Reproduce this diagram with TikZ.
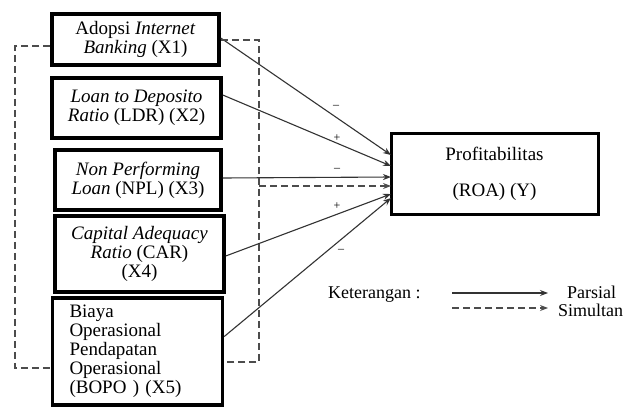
\documentclass[tikz,border=0pt]{standalone}
\usepackage{fontspec}
\setmainfont{Liberation Serif}
\usetikzlibrary{arrows.meta}
\begin{document}
\begin{tikzpicture}[x=1pt,y=-1pt,
  varbox/.style={draw=black,line width=3.5pt,rectangle,inner sep=0pt,align=center,font=\fontsize{19}{19}\selectfont},
  ybox/.style={draw=black,line width=3pt,rectangle,inner sep=0pt,align=center,font=\fontsize{19}{19}\selectfont},
  solidarrow/.style={draw=black!80,line width=1.1pt,-{Stealth[length=8pt,width=6pt]}},
  dasharrow/.style={draw=black!70,line width=1.1pt,dash pattern=on 7pt off 4pt,-{Stealth[length=8pt,width=6pt]}},
  dashline/.style={draw=black!70,line width=1.1pt,dash pattern=on 7pt off 4pt},
  signlbl/.style={font=\fontsize{12}{12}\selectfont,inner sep=0pt},
  txt/.style={font=\fontsize{18}{18}\selectfont,inner sep=0pt}]
\useasboundingbox (0,0) rectangle (635,407);
\fill[white] (0,0) rectangle (635,407);

\node[varbox,minimum width=167pt,minimum height=51pt] (X1) at (135.5,39.5) {Adopsi \textit{Internet}\\\textit{Banking} (X1)};
\node[varbox,minimum width=169pt,minimum height=60pt] (X2) at (136.5,108) {\textit{Loan to Deposito}\\\textit{Ratio} (LDR) (X2)};
\node[varbox,minimum width=166pt,minimum height=60pt] (X3) at (138,180) {\textit{Non Performing}\\\textit{Loan} (NPL) (X3)};
\node[varbox,minimum width=169pt,minimum height=76pt] (X4) at (139.5,254) {\textit{Capital Adequacy}\\\textit{Ratio} (CAR)\\(X4)};
\node[varbox,minimum width=170pt,minimum height=107pt,text width=136pt,align=left] (X5) at (137.5,351.5) {Biaya\\Operasional\\Pendapatan\\Operasional\\(BOPO ) (X5)};

\node[ybox,minimum width=207pt,minimum height=81pt] (Y) at (494.5,173.5) {Profitabilitas\\[17pt](ROA) (Y)};

\coordinate (e1) at (391,155);
\coordinate (e2) at (391,166);
\coordinate (e3) at (391,177);
\coordinate (ed) at (391,186);
\coordinate (e4) at (391,194);
\coordinate (e5) at (391,198);

\draw[solidarrow] ([yshift=1.5pt]X1.east) -- (e1);
\draw[solidarrow] ([yshift=13pt]X2.east) -- (e2);
\draw[solidarrow] ([yshift=2pt]X3.east) -- (e3);
\draw[solidarrow] ([yshift=-2pt]X4.east) -- (e4);
\draw[solidarrow] ([yshift=15pt]X5.east) -- (e5);

\coordinate (r1) at (259,40);
\coordinate (r2) at (259,362);
\coordinate (rm) at (259,186);
\coordinate (l1) at (15,46);
\coordinate (l2) at (15,368);
\draw[dashline] ([yshift=-0.5pt]X1.east) -- (r1) -- (r2) -- (X5.east |- r2);
\draw[dashline] (X1.west |- l1) -- (l1) -- (l2) -- (X5.west |- l2);
\draw[dasharrow] (rm) -- (ed);

\node[signlbl] (s1) at (336,107) {--};
\node[signlbl] (s2) at (337,138) {+};
\node[signlbl] (s3) at (337,170) {--};
\node[signlbl] (s4) at (337,206) {+};
\node[signlbl] (s5) at (341,251) {--};

\node[txt,anchor=base west] (ket) at (328,298) {Keterangan :};
\coordinate (la1) at (452,293);
\coordinate (lb1) at (548,293);
\coordinate (la2) at (452,308);
\coordinate (lb2) at (548,308);
\draw[solidarrow] (la1) -- (lb1);
\draw[dasharrow] (la2) -- (lb2);
\node[txt,anchor=base west] (par) at (567,298) {Parsial};
\node[txt,anchor=base west] (sim) at (558,316) {Simultan};
\end{tikzpicture}
\end{document}
